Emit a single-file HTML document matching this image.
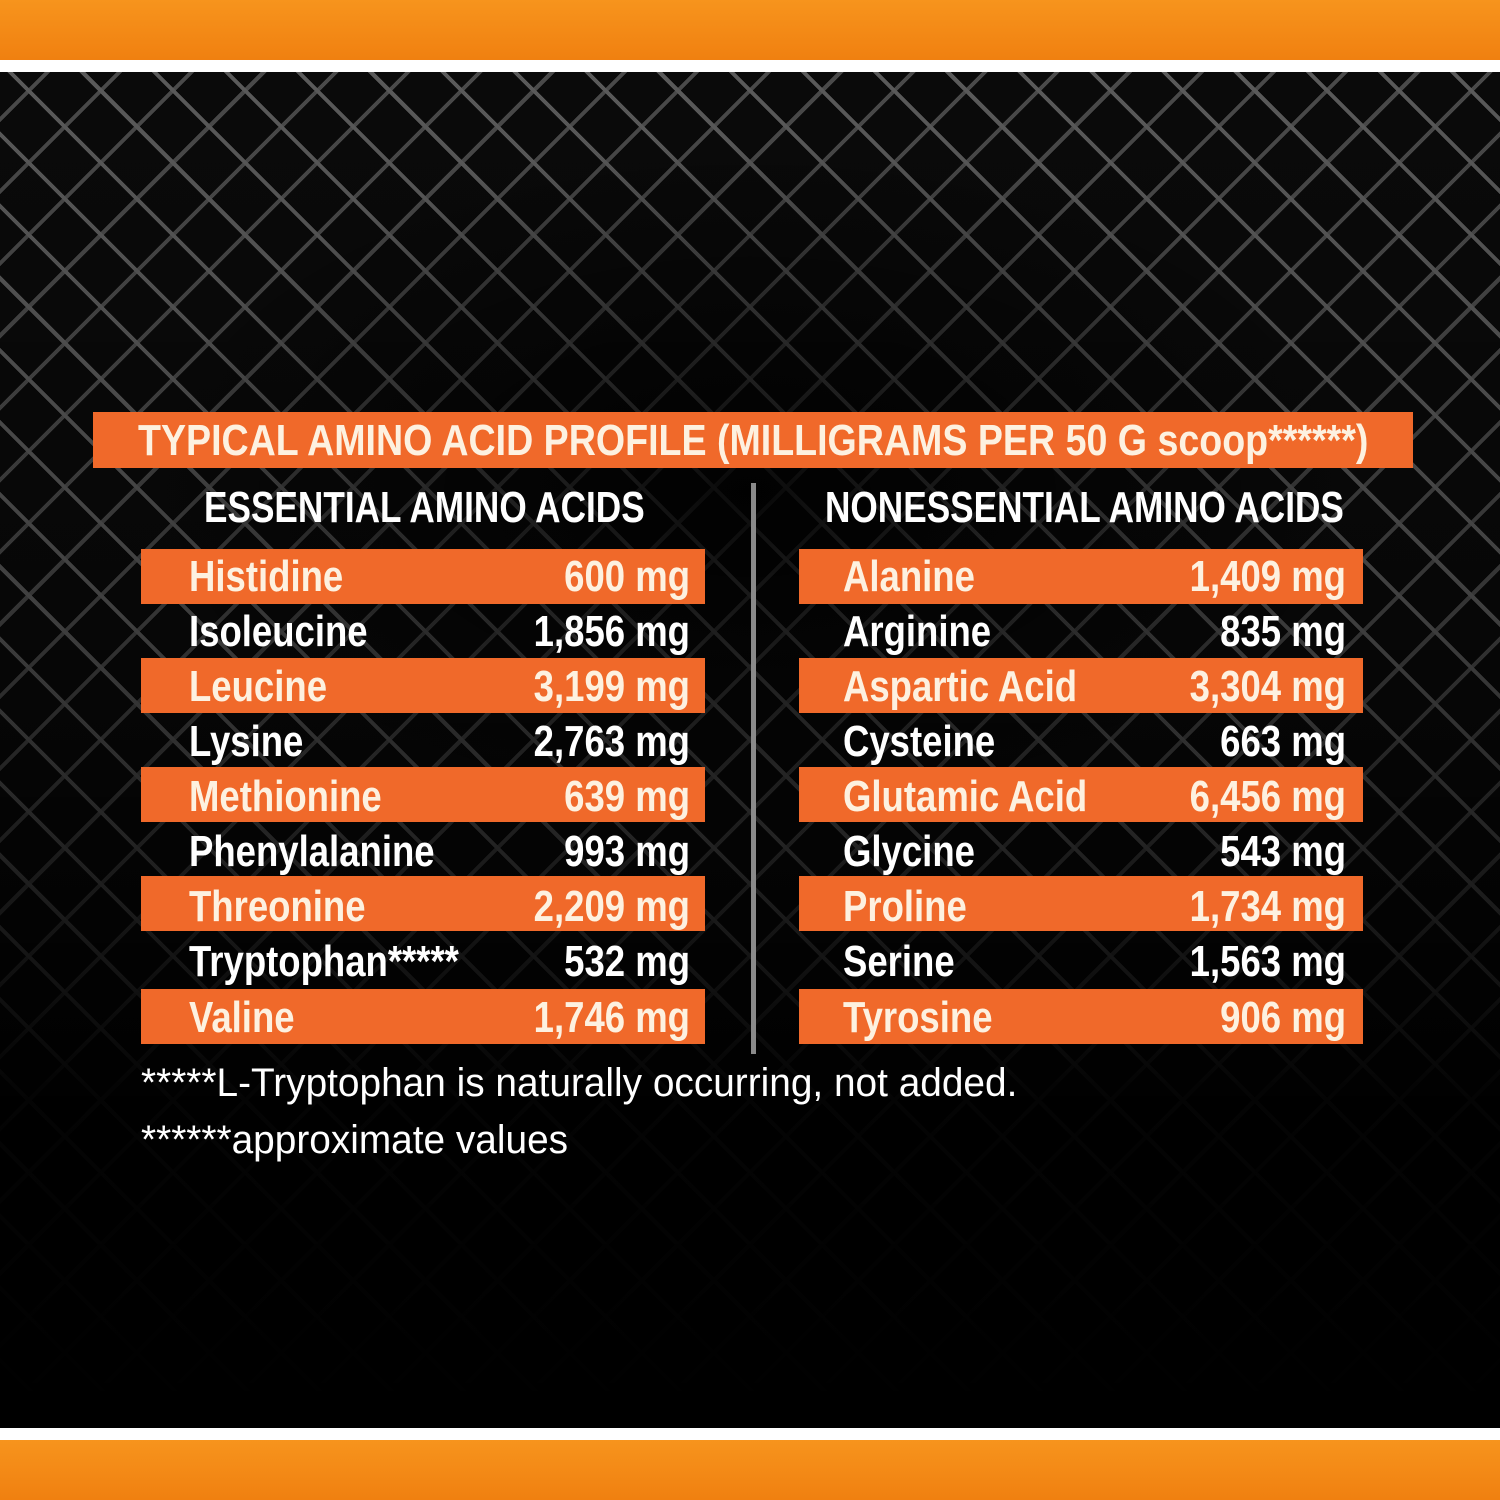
<!DOCTYPE html>
<html><head><meta charset="utf-8"><style>
*{margin:0;padding:0;box-sizing:border-box}
body{width:1500px;height:1500px;position:relative;overflow:hidden;background:#000;font-family:"Liberation Sans",sans-serif}
.band{position:absolute;left:0;width:1500px;background:linear-gradient(#f7941d,#f08010)}
.bg{position:absolute;left:0;top:72px;width:1500px;height:1356px;background:
radial-gradient(ellipse 900px 500px at 750px 420px,rgba(0,0,0,0.85),rgba(0,0,0,0) 70%),
linear-gradient(to bottom,rgba(0,0,0,0) 0%,rgba(0,0,0,0.3) 40%,rgba(0,0,0,0.95) 75%,#000 100%),
repeating-linear-gradient(45deg,transparent 0 46px,#5a5a5a 46px 50px,transparent 50px 51px),
repeating-linear-gradient(-45deg,transparent 0 46px,#4a4a4a 46px 50px,transparent 50px 51px),#0a0a0a}
.t{position:absolute;color:#fff;font-weight:bold;font-size:44px;line-height:54px;white-space:nowrap;transform:scaleX(0.83);transform-origin:left center}
.bar{position:absolute;background:#f0692a;height:55px}
.o{color:#fdf1e0}
.v{transform-origin:right center;text-align:right}
.h{transform:scaleX(0.8)}
.f{font-weight:normal;font-size:40px;transform:scaleX(0.97)}
</style></head><body>
<div class="band" style="top:0;height:60px"></div>
<div style="position:absolute;top:60px;left:0;width:1500px;height:12px;background:#fff"></div>
<div class="bg"></div>
<div style="position:absolute;top:1428px;left:0;width:1500px;height:12px;background:#fff"></div>
<div class="band" style="top:1440px;height:60px"></div>

<div class="bar" style="left:93px;top:412px;width:1320px;height:56px"></div>
<div class="t o" style="left:138px;top:414px;transform:scaleX(0.854)">TYPICAL AMINO ACID PROFILE (MILLIGRAMS PER 50 G scoop******)</div>
<div class="t h" style="left:204px;top:481px">ESSENTIAL AMINO ACIDS</div>
<div class="t h" style="left:825px;top:481px">NONESSENTIAL AMINO ACIDS</div>
<div style="position:absolute;left:751px;top:483px;width:5px;height:571px;background:#8a8a8a"></div>

<div class="bar" style="left:141px;top:549px;width:564px"></div>
<div class="bar" style="left:141px;top:658px;width:564px"></div>
<div class="bar" style="left:141px;top:767px;width:564px"></div>
<div class="bar" style="left:141px;top:876px;width:564px"></div>
<div class="bar" style="left:141px;top:989px;width:564px"></div>
<div class="bar" style="left:799px;top:549px;width:564px"></div>
<div class="bar" style="left:799px;top:658px;width:564px"></div>
<div class="bar" style="left:799px;top:767px;width:564px"></div>
<div class="bar" style="left:799px;top:876px;width:564px"></div>
<div class="bar" style="left:799px;top:989px;width:564px"></div>

<div class="t o" style="left:189px;top:550px">Histidine</div><div class="t o v" style="left:440px;width:250px;top:550px">600 mg</div>
<div class="t" style="left:189px;top:605px">Isoleucine</div><div class="t v" style="left:440px;width:250px;top:605px">1,856 mg</div>
<div class="t o" style="left:189px;top:660px">Leucine</div><div class="t o v" style="left:440px;width:250px;top:660px">3,199 mg</div>
<div class="t" style="left:189px;top:715px">Lysine</div><div class="t v" style="left:440px;width:250px;top:715px">2,763 mg</div>
<div class="t o" style="left:189px;top:770px">Methionine</div><div class="t o v" style="left:440px;width:250px;top:770px">639 mg</div>
<div class="t" style="left:189px;top:825px">Phenylalanine</div><div class="t v" style="left:440px;width:250px;top:825px">993 mg</div>
<div class="t o" style="left:189px;top:880px">Threonine</div><div class="t o v" style="left:440px;width:250px;top:880px">2,209 mg</div>
<div class="t" style="left:189px;top:935px">Tryptophan*****</div><div class="t v" style="left:440px;width:250px;top:935px">532 mg</div>
<div class="t o" style="left:189px;top:991px">Valine</div><div class="t o v" style="left:440px;width:250px;top:991px">1,746 mg</div>

<div class="t o" style="left:843px;top:550px">Alanine</div><div class="t o v" style="left:1096px;width:250px;top:550px">1,409 mg</div>
<div class="t" style="left:843px;top:605px">Arginine</div><div class="t v" style="left:1096px;width:250px;top:605px">835 mg</div>
<div class="t o" style="left:843px;top:660px">Aspartic Acid</div><div class="t o v" style="left:1096px;width:250px;top:660px">3,304 mg</div>
<div class="t" style="left:843px;top:715px">Cysteine</div><div class="t v" style="left:1096px;width:250px;top:715px">663 mg</div>
<div class="t o" style="left:843px;top:770px">Glutamic Acid</div><div class="t o v" style="left:1096px;width:250px;top:770px">6,456 mg</div>
<div class="t" style="left:843px;top:825px">Glycine</div><div class="t v" style="left:1096px;width:250px;top:825px">543 mg</div>
<div class="t o" style="left:843px;top:880px">Proline</div><div class="t o v" style="left:1096px;width:250px;top:880px">1,734 mg</div>
<div class="t" style="left:843px;top:935px">Serine</div><div class="t v" style="left:1096px;width:250px;top:935px">1,563 mg</div>
<div class="t o" style="left:843px;top:991px">Tyrosine</div><div class="t o v" style="left:1096px;width:250px;top:991px">906 mg</div>

<div class="t f" style="left:141px;top:1056px">*****L-Tryptophan is naturally occurring, not added.</div>
<div class="t f" style="left:141px;top:1113px">******approximate values</div>
</body></html>
